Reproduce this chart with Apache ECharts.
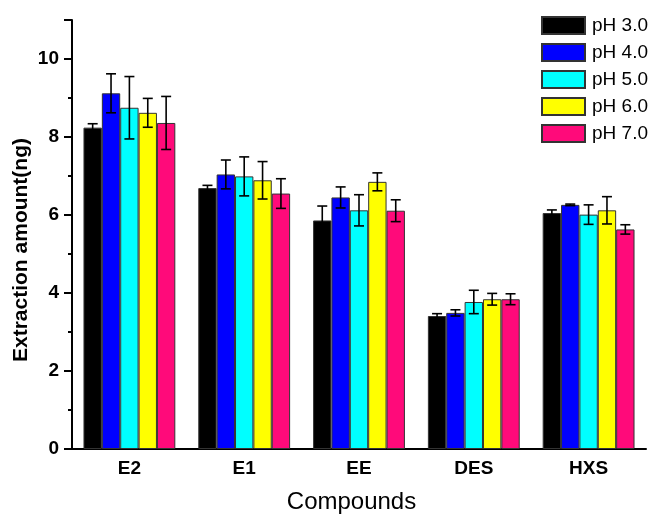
<!DOCTYPE html>
<html>
<head>
<meta charset="utf-8">
<script type="text/javascript" src="https://cdn.jsdelivr.net/npm/echarts@6/dist/echarts.min.js"></script>
<style>
  html, body { margin: 0; padding: 0; background: #fff; }
</style>
</head>
<body>
<div id="main" style="width:655px;height:514px;"></div>
<script type="text/javascript">
// categories and values
var compounds = ['E2', 'E1', 'EE', 'DES', 'HXS'];
var phNames = ['pH 3.0', 'pH 4.0', 'pH 5.0', 'pH 6.0', 'pH 7.0'];
var phColors = ['#000000', '#0000ff', '#00ffff', '#ffff00', '#ff0a7a'];

var ph3 = [8.24, 6.69, 5.86, 3.41, 6.05];
var ph4 = [9.12, 7.04, 6.45, 3.49, 6.26];
var ph5 = [8.75, 6.99, 6.12, 3.77, 6.01];
var ph6 = [8.62, 6.89, 6.85, 3.84, 6.12];
var ph7 = [8.36, 6.55, 6.11, 3.84, 5.63];

// error bar half heights
var err3 = [0.10, 0.07, 0.37, 0.06, 0.08];
var err4 = [0.50, 0.37, 0.27, 0.08, 0.02];
var err5 = [0.80, 0.50, 0.40, 0.30, 0.25];
var err6 = [0.37, 0.48, 0.23, 0.15, 0.35];
var err7 = [0.68, 0.38, 0.28, 0.14, 0.12];

var yTicks = [0, 2, 4, 6, 8, 10];

var values = [ph3, ph4, ph5, ph6, ph7];
var errors = [err3, err4, err5, err6, err7];

var font = "'Liberation Sans', Arial, sans-serif";
var myChart = echarts.init(document.getElementById('main'));

//error bar, shifted to the bar of series k
function errRender(k) {
  return function (params, api) {
    var x = api.value(0), v = api.value(1), e = api.value(2);
    var catW = api.size([1, 0])[0];
    var bw = catW * 0.8 / 5;
    var hi = api.coord([x, v + e]);
    var lo = api.coord([x, v - e]);
    var cx = hi[0] + (k - 2) * bw;
    var cap = 5;
    var st = { stroke: '#000', lineWidth: 1.6 };
    return {
      type: 'group',
      children: [
        { type: 'line', shape: { x1: cx, y1: hi[1], x2: cx, y2: lo[1] }, style: st },
        { type: 'line', shape: { x1: cx - cap, y1: hi[1], x2: cx + cap, y2: hi[1] }, style: st },
        { type: 'line', shape: { x1: cx - cap, y1: lo[1], x2: cx + cap, y2: lo[1] }, style: st }
      ]
    };
  };
}

var series = [];
for (var k = 0; k < 5; k++) {
  series.push({
    name: phNames[k],
    type: 'bar',
    barGap: '0%',
    barCategoryGap: '20%',
    itemStyle: { color: phColors[k], borderColor: '#333', borderWidth: 1 },
    data: values[k]
  });
}
for (var k = 0; k < 5; k++) {
  var d = [];
  for (var i = 0; i < compounds.length; i++) {
    d.push([i, values[k][i], errors[k][i]]);
  }
  series.push({
    name: 'err' + k,
    type: 'custom',
    renderItem: errRender(k),
    z: 10,
    silent: true,
    data: d
  });
}

var option = {
  animation: false,
  backgroundColor: '#fff',
  grid: { left: 72, right: 9, top: 20, bottom: 65, outerBoundsMode: 'none', containLabel: false },
  legend: {
    data: phNames,
    orient: 'vertical',
    left: 541,
    top: 16,
    padding: 0,
    itemWidth: 43,
    itemHeight: 17,
    itemGap: 8,
    icon: 'rect',
    textStyle: { fontFamily: font, fontSize: 19, color: '#000', lineHeight: 17, padding: [0, 0, 0, 2] }
  },
  xAxis: [
    {
      type: 'category',
      data: compounds,
      name: 'Compounds',
      nameLocation: 'middle',
      nameGap: 41,
      nameMoveOverlap: false,
      nameTextStyle: { fontFamily: font, fontSize: 24, color: '#000', padding: [0, 15, 0, 0] },
      axisLine: { lineStyle: { color: '#000', width: 2 } },
      axisTick: { alignWithLabel: false, length: 4, lineStyle: { color: '#000', width: 2 } },
      axisLabel: { fontFamily: font, fontSize: 19, fontWeight: 'bold', color: '#000', margin: 10 }
    },
    {
      type: 'category',
      data: compounds,
      position: 'bottom',
      axisLine: { show: false },
      axisTick: { alignWithLabel: true, length: 7, lineStyle: { color: '#000', width: 2 } },
      axisLabel: { show: false }
    }
  ],
  yAxis: [
    {
      type: 'value',
      min: 0,
      max: 11,
      interval: 2,
      position: 'left',
      name: 'Extraction amount(ng)',
      nameLocation: 'middle',
      nameGap: 40,
      nameMoveOverlap: false,
      nameTextStyle: { fontFamily: font, fontSize: 21, fontWeight: 'bold', color: '#000', padding: [0, 31, 0, 0] },
      splitLine: { show: false },
      axisLine: { show: true, lineStyle: { color: '#000', width: 2 } },
      axisTick: { show: true, length: 8, lineStyle: { color: '#000', width: 2 } },
      axisLabel: {
        fontFamily: font, fontSize: 19, fontWeight: 'bold', color: '#000', margin: 13,
        formatter: function (v) { return yTicks.indexOf(v) >= 0 ? String(v) : ''; }
      }
    },
    {
      type: 'value',
      min: 0,
      max: 11,
      interval: 1,
      position: 'left',
      splitLine: { show: false },
      axisLine: { show: false },
      axisTick: { show: true, length: 4, lineStyle: { color: '#000', width: 2 } },
      axisLabel: { show: false }
    }
  ],
  series: series
};
myChart.setOption(option);
</script>
</body>
</html>
